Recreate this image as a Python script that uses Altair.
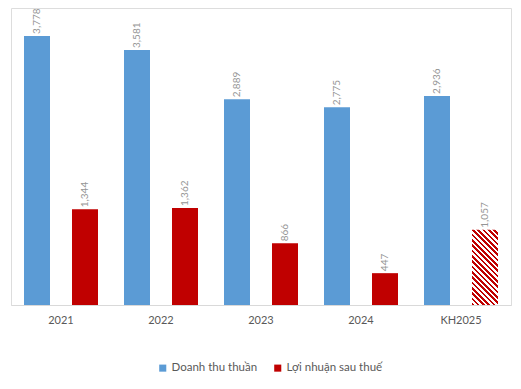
import altair as alt
import pandas as pd

years = ["2021", "2022", "2023", "2024", "KH2025"]
revenue = [3778, 3581, 2889, 2775, 2936]
profit = [1344, 1362, 866, 447, 1057]
series_names = ["Doanh thu thuần", "Lợi nhuận sau thuế"]
colors = ["#5B9BD5", "#C00000"]
plan_year = "KH2025"

rows = []
for y, r, p in zip(years, revenue, profit):
    rows.append({"year": y, "series": series_names[0], "value": r, "plan": False})
    rows.append({"year": y, "series": series_names[1], "value": p, "plan": y == plan_year})
df = pd.DataFrame(rows)

# diagonal hatch via hard-stop linear gradient
N = 19
stops = []
for i in range(N):
    stops.append({"offset": i / N, "color": "#C00000"})
    stops.append({"offset": (i + 0.5) / N, "color": "#C00000"})
    stops.append({"offset": (i + 0.5) / N, "color": "#FFFFFF"})
    stops.append({"offset": (i + 1) / N, "color": "#FFFFFF"})
hatch = {"gradient": "linear", "x1": 0, "y1": 1, "x2": 0.415, "y2": -0.202, "stops": stops}

FONT = "Lato"

x_enc = alt.X("year:N", sort=years,
              scale=alt.Scale(paddingInner=0, paddingOuter=0),
              axis=alt.Axis(title=None, labelAngle=0, ticks=False, domainColor="#D9D9D9",
                            labelColor="#595959", labelFont=FONT, labelFontSize=11,
                            labelFontWeight="normal", labelPadding=9))
xo_enc = alt.XOffset("series:N", sort=series_names,
                     scale=alt.Scale(paddingInner=0.4583, paddingOuter=0.2708))
y_enc = alt.Y("value:Q", scale=alt.Scale(domain=[0, 4170], nice=False, zero=True), axis=None)

base = alt.Chart(df)

bars = base.transform_filter("!datum.plan").mark_bar().encode(
    x=x_enc, xOffset=xo_enc, y=y_enc,
    color=alt.Color("series:N", sort=series_names,
                    scale=alt.Scale(domain=series_names, range=colors),
                    legend=alt.Legend(title=None, orient="none", direction="horizontal",
                                      legendX=146, legendY=354, symbolType="square",
                                      symbolSize=50, symbolStrokeWidth=0,
                                      labelFont=FONT, labelFontSize=11.5,
                                      labelColor="#595959", columnPadding=14,
                                      symbolOffset=0, labelOffset=3)),
)

hatched = base.transform_filter("datum.plan").mark_bar(fill=hatch).encode(
    x=x_enc, xOffset=xo_enc, y=y_enc,
)

labels = base.mark_text(angle=270, align="left", baseline="middle", dx=2,
                        font=FONT, fontSize=10, color="#959595").encode(
    x=x_enc, xOffset=xo_enc, y=y_enc,
    text=alt.Text("value:Q", format=","),
)

chart = alt.layer(bars, hatched, labels).properties(
    width=500, height=297,
    padding={"left": 3, "top": 0, "right": 2, "bottom": 76},
    autosize=alt.AutoSizeParams(type="none"),
).configure_view(stroke=None).configure(background="white")

chart.save("out.html", embed_options={"renderer": "svg", "actions": False})
